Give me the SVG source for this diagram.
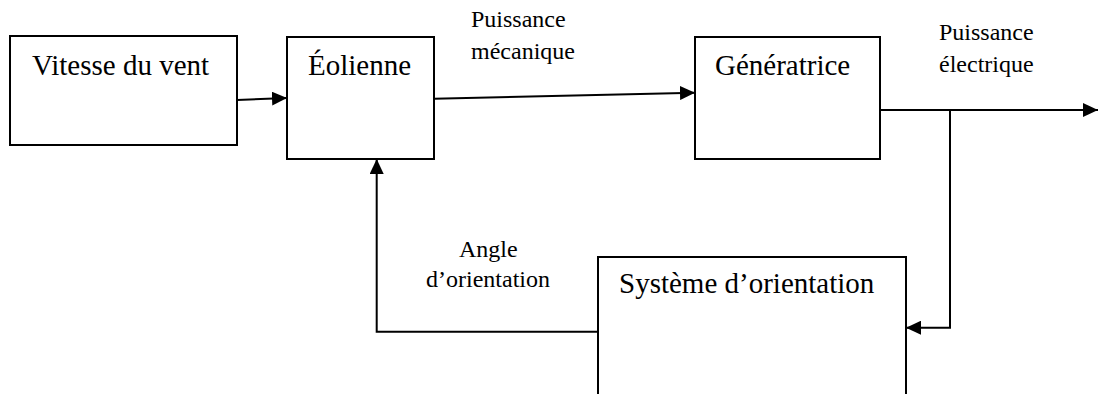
<svg xmlns="http://www.w3.org/2000/svg" width="1098" height="394" viewBox="0 0 1098 394">
<style>
.box{fill:#fff;stroke:#000;stroke-width:2}
.t{font-family:"Liberation Serif","Times New Roman",serif;font-size:29px;fill:#000}
.l{font-family:"Liberation Serif","Times New Roman",serif;font-size:24px;fill:#000}
.c{fill:none;stroke:#000;stroke-width:2}
</style>
<defs>
<marker id="ah" markerUnits="userSpaceOnUse" markerWidth="16" markerHeight="14" viewBox="0 0 16 14" refX="15" refY="7" orient="auto">
<path d="M0,0 L15,7 L0,14 Z" fill="#000"/>
</marker>
</defs>
<rect width="1098" height="394" fill="#fff"/>
<g id="vitesse"><rect class="box" x="10" y="36" width="227" height="109"/><text class="t" x="32" y="75">Vitesse du vent</text></g>
<g id="eolienne"><rect class="box" x="287" y="37" width="147" height="122"/><text class="t" x="308" y="75">Éolienne</text></g>
<g id="generatrice"><rect class="box" x="695" y="37" width="185" height="122"/><text class="t" x="715" y="75">Génératrice</text></g>
<g id="systeme"><rect class="box" x="598" y="257" width="308" height="150"/><text class="t" x="619" y="293">Système d’orientation</text></g>
<g id="connectors">
<line class="c" x1="237" y1="100" x2="287" y2="98" marker-end="url(#ah)"/>
<line class="c" x1="434" y1="98.7" x2="695" y2="92.7" marker-end="url(#ah)"/>
<line class="c" x1="880" y1="110" x2="1098" y2="110" marker-end="url(#ah)"/>
<polyline class="c" points="950,110 950,327.7 906,327.7" marker-end="url(#ah)"/>
<polyline class="c" points="598,331.7 376.7,331.7 376.7,159" marker-end="url(#ah)"/>
</g>
<g id="labels">
<text class="l" x="471" y="27">Puissance</text>
<text class="l" x="471" y="59">mécanique</text>
<text class="l" x="939" y="40">Puissance</text>
<text class="l" x="939" y="72">électrique</text>
<text class="l" x="459" y="257">Angle</text>
<text class="l" x="426" y="287">d’orientation</text>
</g>
</svg>
